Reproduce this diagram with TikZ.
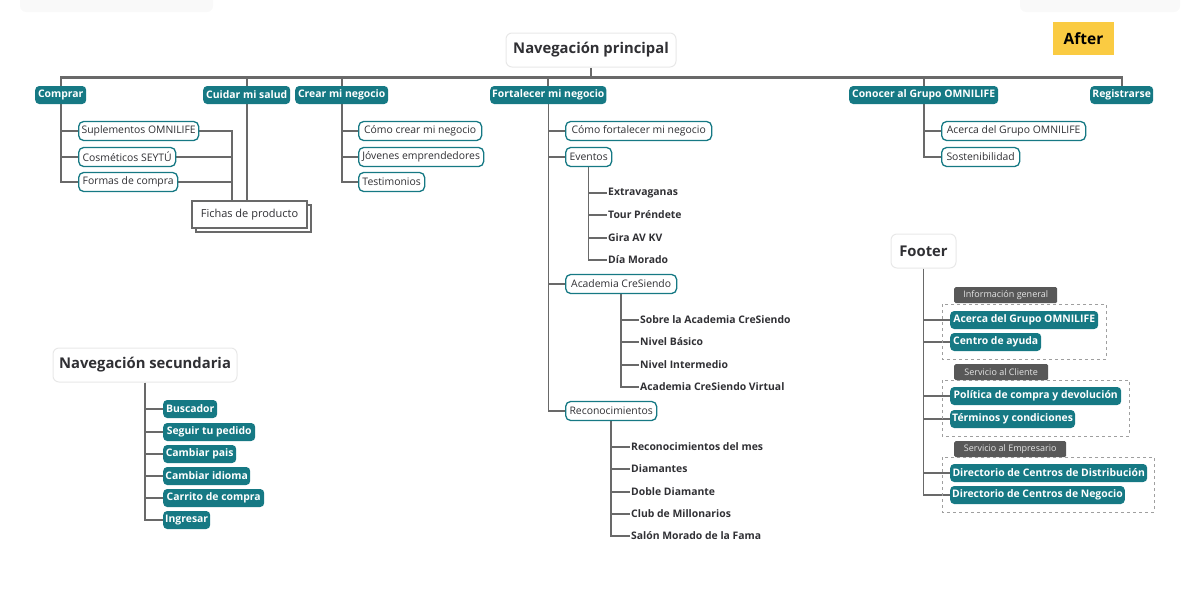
\documentclass[tikz,border=0pt]{standalone}
\usepackage{fontspec}
\setmainfont{Open Sans}
\usetikzlibrary{shadows}
\pgfdeclarelayer{bg}
\pgfsetlayers{bg,main}
\definecolor{tl}{RGB}{22,121,132}
\definecolor{txt}{RGB}{48,48,52}
\definecolor{lg}{RGB}{105,105,105}
\definecolor{tabg}{RGB}{88,88,88}
\definecolor{yel}{RGB}{250,203,66}
\tikzset{
  top/.style={fill=tl, text=white, font=\bfseries\fontsize{10.4}{12}\selectfont, rounded corners=4pt, inner xsep=2pt, inner ysep=0pt, minimum height=18pt, anchor=west},
  ch/.style={draw=tl, line width=1.3pt, fill=white, text=txt, font=\fontsize{10.4}{12}\selectfont, rounded corners=5pt, inner xsep=2pt, inner ysep=0pt, minimum height=19pt, anchor=west},
  lf/.style={text=txt, font=\bfseries\fontsize{10.4}{12}\selectfont, anchor=west, inner xsep=0pt},
  ttl/.style={draw=gray!18, line width=1pt, fill=white, rounded corners=6pt, font=\bfseries\fontsize{14.8}{17}\selectfont, text=txt, minimum height=34pt, inner xsep=3pt},
  ln/.style={draw=lg, line width=1.6pt},
  bus/.style={draw=lg, line width=2.2pt},
  tab/.style={fill=tabg, text=gray!20, font=\fontsize{9}{10}\selectfont, anchor=north west, inner xsep=2pt, inner ysep=0pt, minimum height=16pt, rounded corners=1.5pt},
  grp/.style={draw=gray!75, dashed, line width=0.8pt},
}
\begin{document}
\begin{tikzpicture}[x=1pt,y=-1pt]
\useasboundingbox (0,0) rectangle (1200,592);
% faint top shapes
\fill[gray!5, rounded corners=6pt] (20,-8) rectangle (213,12);
\fill[gray!5, rounded corners=6pt] (1020,-8) rectangle (1180,12);

% titles
\node[ttl, minimum width=170pt] (np) at (591,50) {Navegación principal};
\node[ttl, minimum width=184pt] (ns) at (145,365) {Navegación secundaria};
\node[ttl, minimum width=65pt] (ft) at (923.5,251) {Footer};
\node[fill=yel, minimum width=61pt, minimum height=33pt, font=\bfseries\fontsize{15.5}{17}\selectfont, text=black] (after) at (1083.5,38.5) {After};

% top level
\node[top, minimum width=51pt] (comprar) at (35,95) {Comprar};
\node[top, minimum width=87pt] (cuidar) at (203,95) {Cuidar mi salud};
\node[top, minimum width=93pt] (crear) at (295,95) {Crear mi negocio};
\node[top, minimum width=116pt] (fort) at (490,95) {Fortalecer mi negocio};
\node[top, minimum width=149pt] (conocer) at (849,95) {Conocer al Grupo OMNILIFE};
\node[top, minimum width=63pt] (reg) at (1090,95) {Registrarse};

% Comprar children
\node[ch, minimum width=120pt] (supl) at (78,131) {Suplementos OMNILIFE};
\node[ch, minimum width=97pt] (cosm) at (78,157) {Cosméticos SEYTÚ};
\node[ch, minimum width=99pt] (formas) at (78,182) {Formas de compra};
\node[draw=lg, line width=1.2pt, fill=white, text=txt, font=\fontsize{11}{12}\selectfont, minimum width=115pt, minimum height=27pt,
  copy shadow={shadow xshift=4pt, shadow yshift=-4pt, draw=lg, fill=white, line width=1.2pt}] (fichas) at (249.5,214.5) {Fichas de producto};
\coordinate (fj) at (232,201);

% Crear children
\node[ch, minimum width=123pt] (c1) at (358,131) {Cómo crear mi negocio};
\node[ch, minimum width=125pt] (c2) at (358,157) {Jóvenes emprendedores};
\node[ch, minimum width=66pt] (c3) at (358,182) {Testimonios};

% Fortalecer children
\node[ch, minimum width=146pt] (f1) at (565,131) {Cómo fortalecer mi negocio};
\node[ch, minimum width=46pt] (ev) at (565,157) {Eventos};
\node[ch, minimum width=111pt] (ac) at (565,284) {Academia CreSiendo};
\node[ch, minimum width=91pt] (rc) at (565,411) {Reconocimientos};

\node[lf] (e1) at (608,193) {Extravaganas};
\node[lf] (e2) at (608,215) {Tour Préndete};
\node[lf] (e3) at (608,238) {Gira AV KV};
\node[lf] (e4) at (608,260) {Día Morado};

\node[lf] (a1) at (640,320) {Sobre la Academia CreSiendo};
\node[lf] (a2) at (640,342) {Nivel Básico};
\node[lf] (a3) at (640,365) {Nivel Intermedio};
\node[lf] (a4) at (640,387) {Academia CreSiendo Virtual};

\node[lf] (r1) at (631,447) {Reconocimientos del mes};
\node[lf] (r2) at (631,469) {Diamantes};
\node[lf] (r3) at (631,492) {Doble Diamante};
\node[lf] (r4) at (631,514) {Club de Millonarios};
\node[lf] (r5) at (631,536) {Salón Morado de la Fama};

% Conocer children
\node[ch, minimum width=144pt] (k1) at (941,131) {Acerca del Grupo OMNILIFE};
\node[ch, minimum width=78pt] (k2) at (941,157) {Sostenibilidad};

% Navegacion secundaria
\node[top, minimum width=54pt] (s1) at (163,409) {Buscador};
\node[top, minimum width=92pt] (s2) at (163,432) {Seguir tu pedido};
\node[top, minimum width=73pt] (s3) at (163,454) {Cambiar pais};
\node[top, minimum width=87pt] (s4) at (163,476) {Cambiar idioma};
\node[top, minimum width=101pt] (s5) at (163,498) {Carrito de compra};
\node[top, minimum width=47pt] (s6) at (163,520) {Ingresar};

% Footer groups
\draw[grp] (942,304) rectangle (1106,359);
\draw[grp] (942,380) rectangle (1129,436);
\draw[grp] (942,457) rectangle (1154,512);
\node[tab, minimum width=103pt] (t1) at (954,287) {Información general};
\node[tab, minimum width=94pt] (t2) at (954,364) {Servicio al Cliente};
\node[tab, minimum width=112pt] (t3) at (954,441) {Servicio al Empresario};

\node[top, minimum width=148pt] (g1) at (950,320) {Acerca del Grupo OMNILIFE};
\node[top, minimum width=91pt] (g2) at (950,342) {Centro de ayuda};
\node[top, minimum width=171pt] (g3) at (950,396) {Política de compra y devolución};
\node[top, minimum width=124pt] (g4) at (950,419) {Términos y condiciones};
\node[top, minimum width=197pt] (g5) at (950,473) {Directorio de Centros de Distribución};
\node[top, minimum width=174pt] (g6) at (950,495) {Directorio de Centros de Negocio};

% connectors
\begin{pgfonlayer}{bg}
\draw[bus] (np.south) -- ++(0,10) coordinate (bj);
\foreach \n in {comprar,cuidar,crear,fort,conocer,reg} \draw[bus] (\n.north) |- (bj);
\draw[ln] (cuidar.south) -- (cuidar.south |- fichas.north);
\foreach \n in {supl,cosm,formas} {\draw[ln] (comprar.south) |- (\n.west); \draw[ln] (\n.east) -| (fj);}
\foreach \n in {c1,c2,c3} \draw[ln] (crear.south) |- (\n.west);
\foreach \n in {f1,ev,ac,rc} \draw[ln] (fort.south) |- (\n.west);
\foreach \n in {e1,e2,e3,e4} \draw[ln] (ev.south) |- ([xshift=-1pt]\n.west);
\foreach \n in {a1,a2,a3,a4} \draw[ln] (ac.south) |- ([xshift=-1pt]\n.west);
\foreach \n in {r1,r2,r3,r4,r5} \draw[ln] (rc.south) |- ([xshift=-1pt]\n.west);
\foreach \n in {k1,k2} \draw[ln] (conocer.south) |- (\n.west);
\foreach \n in {s1,s2,s3,s4,s5,s6} \draw[ln] (ns.south) |- (\n.west);
\foreach \n in {g1,g2,g3,g4,g5,g6} \draw[ln] (ft.south) |- (\n.west);
\end{pgfonlayer}
\end{tikzpicture}
\end{document}
